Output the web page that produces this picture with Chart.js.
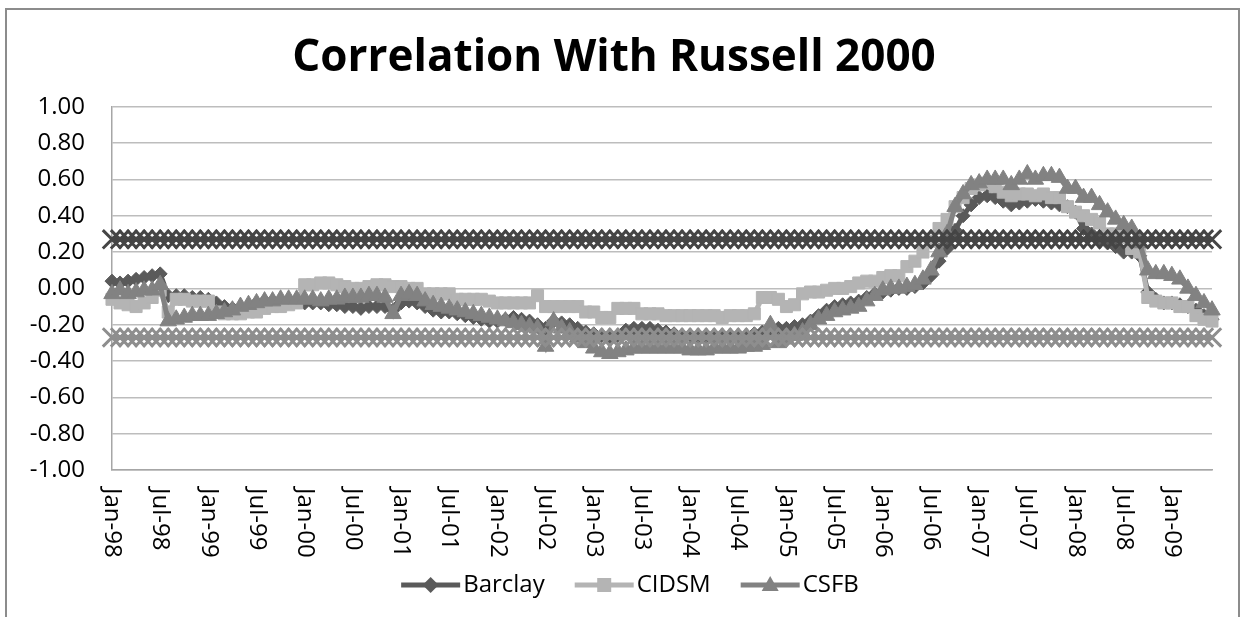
<!DOCTYPE html>
<html>
<head>
<meta charset="utf-8">
<title>Correlation With Russell 2000</title>
<script src="https://cdn.jsdelivr.net/npm/chart.js@4.4.1/dist/chart.umd.min.js"></script>
<style>
    html, body { margin: 0; padding: 0; background: #fff; }
    #wrap { width: 1244px; height: 617px; }
</style>
</head>
<body>
<div id="wrap"><canvas id="chart" width="1244" height="617"></canvas></div>
<script>
// monthly categories, Jan-98 .. Jun-09
const months = [
    'Jan-98', 'Feb-98', 'Mar-98', 'Apr-98', 'May-98', 'Jun-98', 'Jul-98', 'Aug-98', 'Sep-98', 'Oct-98', 'Nov-98', 'Dec-98',
    'Jan-99', 'Feb-99', 'Mar-99', 'Apr-99', 'May-99', 'Jun-99', 'Jul-99', 'Aug-99', 'Sep-99', 'Oct-99', 'Nov-99', 'Dec-99',
    'Jan-00', 'Feb-00', 'Mar-00', 'Apr-00', 'May-00', 'Jun-00', 'Jul-00', 'Aug-00', 'Sep-00', 'Oct-00', 'Nov-00', 'Dec-00',
    'Jan-01', 'Feb-01', 'Mar-01', 'Apr-01', 'May-01', 'Jun-01', 'Jul-01', 'Aug-01', 'Sep-01', 'Oct-01', 'Nov-01', 'Dec-01',
    'Jan-02', 'Feb-02', 'Mar-02', 'Apr-02', 'May-02', 'Jun-02', 'Jul-02', 'Aug-02', 'Sep-02', 'Oct-02', 'Nov-02', 'Dec-02',
    'Jan-03', 'Feb-03', 'Mar-03', 'Apr-03', 'May-03', 'Jun-03', 'Jul-03', 'Aug-03', 'Sep-03', 'Oct-03', 'Nov-03', 'Dec-03',
    'Jan-04', 'Feb-04', 'Mar-04', 'Apr-04', 'May-04', 'Jun-04', 'Jul-04', 'Aug-04', 'Sep-04', 'Oct-04', 'Nov-04', 'Dec-04',
    'Jan-05', 'Feb-05', 'Mar-05', 'Apr-05', 'May-05', 'Jun-05', 'Jul-05', 'Aug-05', 'Sep-05', 'Oct-05', 'Nov-05', 'Dec-05',
    'Jan-06', 'Feb-06', 'Mar-06', 'Apr-06', 'May-06', 'Jun-06', 'Jul-06', 'Aug-06', 'Sep-06', 'Oct-06', 'Nov-06', 'Dec-06',
    'Jan-07', 'Feb-07', 'Mar-07', 'Apr-07', 'May-07', 'Jun-07', 'Jul-07', 'Aug-07', 'Sep-07', 'Oct-07', 'Nov-07', 'Dec-07',
    'Jan-08', 'Feb-08', 'Mar-08', 'Apr-08', 'May-08', 'Jun-08', 'Jul-08', 'Aug-08', 'Sep-08', 'Oct-08', 'Nov-08', 'Dec-08',
    'Jan-09', 'Feb-09', 'Mar-09', 'Apr-09', 'May-09', 'Jun-09'
]

const barclay = [
    0.04, 0.03, 0.04, 0.05, 0.06, 0.07, 0.08, -0.04, -0.04, -0.04, -0.05, -0.05,
    -0.06, -0.08, -0.10, -0.11, -0.11, -0.10, -0.08, -0.07, -0.07, -0.07, -0.07, -0.07,
    -0.08, -0.08, -0.08, -0.09, -0.09, -0.10, -0.10, -0.11, -0.10, -0.10, -0.10, -0.12,
    -0.08, -0.07, -0.08, -0.10, -0.12, -0.13, -0.13, -0.14, -0.15, -0.16, -0.17, -0.18,
    -0.18, -0.17, -0.16, -0.17, -0.18, -0.20, -0.22, -0.18, -0.19, -0.20, -0.22, -0.24,
    -0.25, -0.26, -0.27, -0.26, -0.23, -0.22, -0.22, -0.22, -0.23, -0.24, -0.25, -0.26,
    -0.26, -0.27, -0.27, -0.27, -0.26, -0.26, -0.26, -0.26, -0.25, -0.24, -0.23, -0.22,
    -0.22, -0.21, -0.20, -0.18, -0.15, -0.12, -0.10, -0.09, -0.08, -0.07, -0.05, -0.03,
    -0.02, -0.01, 0.00, 0.00, 0.01, 0.03, 0.07, 0.15, 0.22, 0.32, 0.40, 0.46,
    0.50, 0.51, 0.50, 0.48, 0.46, 0.47, 0.48, 0.49, 0.48, 0.47, 0.46, 0.45,
    0.42, 0.33, 0.30, 0.27, 0.25, 0.23, 0.20, 0.20, 0.18, -0.02, -0.06, -0.08,
    -0.08, -0.09, -0.10, -0.12, -0.15, -0.17
]

const cidsm = [
    -0.06, -0.08, -0.09, -0.10, -0.08, -0.05, -0.01, -0.13, -0.06, -0.06, -0.07, -0.07,
    -0.07, -0.13, -0.14, -0.14, -0.14, -0.13, -0.13, -0.11, -0.10, -0.10, -0.09, -0.08,
    0.02, 0.02, 0.03, 0.03, 0.02, 0.01, 0.00, 0.00, 0.01, 0.02, 0.02, 0.01,
    0.01, 0.00, 0.00, -0.03, -0.03, -0.03, -0.03, -0.06, -0.06, -0.06, -0.06, -0.07,
    -0.08, -0.08, -0.08, -0.08, -0.08, -0.04, -0.10, -0.10, -0.10, -0.10, -0.10, -0.13,
    -0.13, -0.16, -0.16, -0.11, -0.11, -0.11, -0.14, -0.14, -0.14, -0.15, -0.15, -0.15,
    -0.15, -0.15, -0.15, -0.15, -0.16, -0.15, -0.15, -0.15, -0.14, -0.05, -0.05, -0.06,
    -0.10, -0.09, -0.03, -0.02, -0.02, -0.01, 0.00, 0.00, 0.01, 0.03, 0.04, 0.04,
    0.06, 0.07, 0.07, 0.12, 0.15, 0.20, 0.26, 0.33, 0.38, 0.45, 0.50, 0.55,
    0.57, 0.58, 0.56, 0.53, 0.51, 0.52, 0.52, 0.51, 0.52, 0.50, 0.50, 0.45,
    0.42, 0.40, 0.38, 0.36, 0.30, 0.30, 0.28, 0.22, 0.20, -0.05, -0.07, -0.08,
    -0.08, -0.10, -0.10, -0.15, -0.17, -0.18
]

const csfb = [
    -0.03, -0.01, -0.03, -0.02, -0.01, -0.01, 0.02, -0.18, -0.17, -0.16, -0.15, -0.15,
    -0.15, -0.14, -0.13, -0.12, -0.10, -0.09, -0.08, -0.07, -0.07, -0.06, -0.06, -0.06,
    -0.06, -0.06, -0.07, -0.06, -0.06, -0.05, -0.05, -0.05, -0.04, -0.04, -0.05, -0.14,
    -0.04, -0.03, -0.04, -0.07, -0.09, -0.10, -0.11, -0.12, -0.13, -0.14, -0.15, -0.16,
    -0.17, -0.18, -0.19, -0.20, -0.21, -0.22, -0.32, -0.18, -0.22, -0.24, -0.27, -0.30,
    -0.33, -0.35, -0.36, -0.35, -0.34, -0.33, -0.33, -0.33, -0.33, -0.33, -0.33, -0.33,
    -0.34, -0.34, -0.34, -0.33, -0.33, -0.33, -0.33, -0.32, -0.32, -0.31, -0.20, -0.30,
    -0.28, -0.26, -0.24, -0.20, -0.17, -0.15, -0.13, -0.12, -0.11, -0.10, -0.07, -0.04,
    -0.01, 0.00, 0.00, 0.01, 0.02, 0.05, 0.10, 0.20, 0.30, 0.45, 0.52, 0.57,
    0.58, 0.60, 0.60, 0.60, 0.57, 0.60, 0.63, 0.60, 0.62, 0.62, 0.61, 0.55,
    0.55, 0.50, 0.50, 0.46, 0.42, 0.38, 0.35, 0.33, 0.25, 0.10, 0.08, 0.08,
    0.07, 0.05, 0.00, -0.04, -0.08, -0.12
]

// significance bands drawn as flat series
const upperBand = 0.27
const lowerBand = -0.27

const yTicks = { min: -1, max: 1, step: 0.2 }
const FONT = 'Open Sans'

// start: custom drawing (frame, rotated month labels, legend with line + marker)
function drawMarker(ctx, shape, x, y, color) {
    ctx.fillStyle = color
    ctx.beginPath()
    if (shape === 'rectRot') {
        ctx.moveTo(x, y - 8); ctx.lineTo(x + 8, y); ctx.lineTo(x, y + 8); ctx.lineTo(x - 8, y)
    } else if (shape === 'rect') {
        ctx.rect(x - 7, y - 7, 14, 14)
    } else {
        ctx.moveTo(x, y - 9); ctx.lineTo(x + 8.5, y + 6); ctx.lineTo(x - 8.5, y + 6)
    }
    ctx.closePath()
    ctx.fill()
}

const excelLook = {
    id: 'excelLook',
    beforeDraw(chart) {
        const ctx = chart.ctx
        ctx.save()
        ctx.strokeStyle = '#8c8c8c'
        ctx.lineWidth = 2
        ctx.strokeRect(6, 9, 1233, 700)
        ctx.restore()
    },
    afterDraw(chart) {
        const ctx = chart.ctx
        const xs = chart.scales.x
        // month labels every 6 months, rotated to read top-down
        ctx.save()
        ctx.fillStyle = '#000'
        ctx.font = '24px "' + FONT + '"'
        ctx.textAlign = 'left'
        ctx.textBaseline = 'middle'
        months.forEach(function (m, i) {
            if (i % 6 !== 0) return
            ctx.save()
            ctx.translate(xs.getPixelForValue(i), chart.chartArea.bottom + 18)
            ctx.rotate(Math.PI / 2)
            ctx.fillText(m, 0, 0)
            ctx.restore()
        })
        ctx.restore()

        // legend
        const items = chart.data.datasets.filter(function (d) { return d.inLegend })
        ctx.save()
        ctx.font = '24px "' + FONT + '"'
        const lineLen = 59, gap = 3, spacing = 30
        let total = 0
        items.forEach(function (d, i) {
            total += lineLen + gap + ctx.measureText(d.label).width + (i ? spacing : 0)
        })
        let x = 630 - total / 2
        const y = 585
        items.forEach(function (d) {
            ctx.strokeStyle = d.borderColor
            ctx.lineWidth = 5
            ctx.beginPath()
            ctx.moveTo(x, y)
            ctx.lineTo(x + lineLen, y)
            ctx.stroke()
            drawMarker(ctx, d.pointStyle, x + lineLen / 2, y, d.borderColor)
            x += lineLen + gap
            ctx.fillStyle = '#000'
            ctx.textAlign = 'left'
            ctx.textBaseline = 'middle'
            ctx.fillText(d.label, x, y)
            x += ctx.measureText(d.label).width + spacing
        })
        ctx.restore()
    }
}
// end: custom drawing

new Chart(document.getElementById('chart'), {
    type: 'line',
    data: {
        labels: months,
        datasets: [
            {
                label: 'Barclay',
                inLegend: true,
                data: barclay,
                borderColor: '#5a5a5a',
                backgroundColor: '#5a5a5a',
                borderWidth: 5,
                pointStyle: 'rectRot',
                pointRadius: 7,
                pointBorderWidth: 1,
                order: 3
            },
            {
                label: 'CIDSM',
                inLegend: true,
                data: cidsm,
                borderColor: '#b4b4b4',
                backgroundColor: '#b4b4b4',
                borderWidth: 5,
                pointStyle: 'rect',
                pointRadius: 8.5,
                pointBorderWidth: 1,
                order: 2
            },
            {
                label: 'CSFB',
                inLegend: true,
                data: csfb,
                borderColor: '#828282',
                backgroundColor: '#828282',
                borderWidth: 5,
                pointStyle: 'triangle',
                pointRadius: 9.5,
                pointBorderWidth: 1,
                order: 1
            },
            {
                label: 'Upper',
                data: months.map(function () { return upperBand }),
                borderColor: '#454545',
                backgroundColor: '#454545',
                borderWidth: 5,
                pointStyle: 'crossRot',
                pointRadius: 13,
                pointBorderWidth: 3,
                clip: false,
                order: 0
            },
            {
                label: 'Lower',
                data: months.map(function () { return lowerBand }),
                borderColor: '#8e8e8e',
                backgroundColor: '#8e8e8e',
                borderWidth: 5,
                pointStyle: 'crossRot',
                pointRadius: 13,
                pointBorderWidth: 3,
                clip: false,
                order: 0
            }
        ]
    },
    options: {
        responsive: false,
        devicePixelRatio: 1,
        animation: false,
        events: [],
        layout: {
            padding: { top: 8, left: 16, right: 32, bottom: 47 }
        },
        plugins: {
            legend: { display: false },
            tooltip: { enabled: false },
            title: {
                display: true,
                text: 'Correlation With Russell 2000',
                color: '#000',
                font: { family: FONT, size: 44, weight: 'bold' },
                padding: { top: 24, bottom: 22 }
            }
        },
        elements: {
            line: { tension: 0 }
        },
        scales: {
            x: {
                ticks: { display: false },
                grid: { display: false, drawTicks: false },
                border: { display: true, color: '#a6a6a6', width: 1.5 },
                afterFit: function (s) { s.height = 100 }
            },
            y: {
                min: yTicks.min,
                max: yTicks.max,
                ticks: {
                    stepSize: yTicks.step,
                    padding: 27,
                    color: '#000',
                    font: { family: FONT, size: 24 },
                    callback: function (v) {
                        return (Math.abs(v) < 1e-9 ? 0 : v).toFixed(2)
                    }
                },
                grid: { color: '#bdbdbd', lineWidth: 1.5, drawTicks: false },
                border: { display: true, color: '#a6a6a6', width: 1.5 },
                afterFit: function (s) { s.width = 96 }
            }
        }
    },
    plugins: [excelLook]
});
</script>
</body>
</html>
